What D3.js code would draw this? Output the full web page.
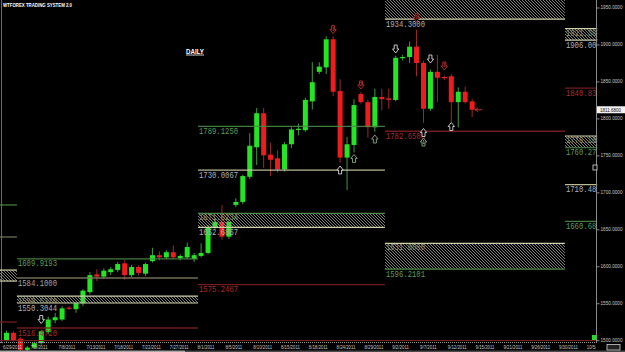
<!DOCTYPE html>
<html>
<head>
<meta charset="utf-8">
<script src="https://cdn.jsdelivr.net/npm/d3@7"></script>
<style>
html, body { margin: 0; padding: 0; background: #000; }
svg { display: block; }
</style>
</head>
<body>
<svg id="canvas" width="625" height="352"></svg>
<script>
// daily bars, gold spot, 6/29/2011 onwards
var opens  = [1500,1510,1502,1487,1490,1496,1511,1527,1528,1544,1542,1550,1565,1589,1586,1592,1595,1604,1588,1599,
              1590,1607,1615,1612,1619,1611,1612,1610,1614,1618,1653,1660,1640,1683,1687,1721,1761,1807,1751,1746,
              1731,1765,1785,1784,1823,1863,1869,1907,1837,1747,1764,1833,1822,1788,1829,1827,1825,1882,1883,1897,
              1875,1813,1863,1856,1857,1822,1836,1823];
var highs  = [1513,1512,1504,1492,1498,1514,1532,1537,1546,1546,1551,1569,1592,1596,1597,1599,1606,1608,1602,1601,
              1605,1625,1620,1622,1628,1616,1632,1618,1631,1656,1664,1683,1664,1692,1724,1780,1814,1814,1767,1757,
              1768,1788,1793,1828,1876,1876,1911,1911,1853,1775,1826,1836,1825,1840,1840,1840,1885,1886,1904,1920,
              1878,1866,1886,1858,1860,1842,1843,1826];
var lows   = [1498,1498,1484,1485,1488,1494,1508,1523,1526,1541,1537,1546,1562,1580,1583,1588,1592,1582,1585,1588,
              1587,1605,1608,1610,1610,1608,1610,1606,1612,1616,1650,1636,1637,1680,1684,1718,1737,1733,1722,1727,
              1728,1760,1777,1782,1812,1860,1860,1830,1740,1703,1754,1820,1774,1782,1811,1813,1823,1878,1875,1857,
              1794,1810,1822,1852,1795,1788,1820,1802];
var closes = [1510,1500,1487,1490,1496,1512,1528,1531,1543,1543,1550,1567,1588,1586,1594,1596,1603,1588,1599,1591,
              1603,1615,1612,1619,1612,1614,1626,1615,1618,1653,1660,1640,1660,1687,1722,1763,1807,1750,1744,1731,
              1765,1785,1786,1825,1849,1870,1907,1836,1747,1765,1818,1822,1788,1829,1826,1825,1882,1883,1897,1875,
              1813,1863,1855,1855,1822,1836,1822,1811.68];

// date labels every 4th bar
var dateLabels = ['6/29/2011','7/5/2011','7/8/2011','7/13/2011','7/18/2011','7/22/2011','7/27/2011','8/1/2011',
                  '8/5/2011','8/10/2011','8/15/2011','8/18/2011','8/24/2011','8/29/2011','9/2/2011','9/7/2011',
                  '9/12/2011','9/15/2011','9/21/2011','9/26/2011','9/30/2011','10/5/2011'];
var priceTicks = [1500,1550,1600,1650,1700,1750,1800,1850,1900,1950];

// period boundaries (in bars) for the level sets
var periodBars = [-1, 1.5, 27.55, 54.45, 80.35, 85];

// single level lines
var linePeriod = [0, 0, 0, 1, 1, 1, 2, 2, 2, 3, 4, 4, 4];
var linePrice  = [1682.9, 1639.6, 1524.6, 1609.9193, 1584.1, 1516.472, 1789.125, 1730.0067, 1575.2467, 1782.65, 1840.83, 1710.48, 1660.68];
var lineKind   = ['sup','mid','piv','sup','mid','piv','sup','cream','piv','piv','piv','cream','sup'];
var lineLabel  = ['','','','1609.9193','1584.1000','1516.4720','1789.1250','1730.0067','1575.2467','1782.6500','1840.83','1710.48','1660.68'];

// hatched zones
var zonePeriod      = [0, 1, 2, 3, 3, 4, 4];
var zoneTop         = [1594.9, 1559.5326, 1671.6234, 1995, 1631.0, 1921.36, 1776.20];
var zoneBottom      = [1580.0, 1550.3044, 1652.6867, 1934.3, 1596.2101, 1906.00, 1760.27];
var zoneTopLabel    = ['', '1559.5326', '1671.6234', '', '1631.0000', '1921.36', '1776.20'];
var zoneBottomLabel = ['', '1550.3044', '1652.6867', '1934.3000', '1596.2101', '1906.00', '1760.27'];
var zoneTopKind     = ['cream','cream','sup','cream','cream','cream','cream'];
var zoneBottomKind  = ['cream','cream','cream','cream','sup','cream','sup'];

// signal arrows
var arrowBar   = [5, 47, 51, 48, 50, 53, 56, 59, 60, 60, 61, 63, 64];
var arrowPrice = [1528, 1920.2, 1845.2, 1730.2, 1745.8, 1772.1, 1893.9, 1936.2, 1780.9, 1768.1, 1880.3, 1870.9, 1789];
var arrowDir   = ['down','down','down','up','up','up','down','down','up','up','down','down','up'];
var arrowKind  = ['plain','sell','sell','plain','buy','buy','plain','sell','plain','buy','plain','sell','plain'];
var arrowText  = ['', '1', '2', '', '', '', '', '1', '', '1', '', '1', ''];

var lineColor  = { sup: '#4b8a45', mid: '#7c7c5e', piv: '#7e2020', cream: '#cfcfa8' };
var labelColor = { sup: '#5f9c58', mid: '#a4a4a4', piv: '#a82c2c', cream: '#b0b0b0' };
var arrowColor = { plain: '#d8d8d8', sell: '#c03030', buy: '#8aa88a' };

var svg = d3.select('#canvas');
var x = d3.scaleLinear().domain([0, 1]).range([6.5, 13.45]);
var y = d3.scaleLinear().domain([1500, 1950]).range([340.2, 7.5]);

var defs = svg.append('defs');
var pat = defs.append('pattern')
	.attr('id', 'hatch')
	.attr('patternUnits', 'userSpaceOnUse')
	.attr('width', 3)
	.attr('height', 3);
pat.append('path')
	.attr('d', 'M -1 -1 L 4 4 M -1 2 L 1 4 M 2 -1 L 4 1')
	.attr('stroke', '#a0a0a0')
	.attr('stroke-width', 0.8);
defs.append('clipPath').attr('id', 'plotclip')
	.append('rect').attr('x', 0).attr('y', 0).attr('width', 596).attr('height', 352);

svg.append('rect').attr('width', 625).attr('height', 352).attr('fill', '#000');

// left border
svg.append('line').attr('x1', 1.5).attr('x2', 1.5).attr('y1', 0).attr('y2', 343)
	.attr('stroke', '#6a6a6a').attr('stroke-width', 1);

// candles
var bars = d3.range(opens.length);
function isUp(i){ return closes[i] >= opens[i]; }

svg.append('g').selectAll('line').data(bars).join('line')
	.attr('x1', function(d){ return x(d); })
	.attr('x2', function(d){ return x(d); })
	.attr('y1', function(d){ return y(highs[d]); })
	.attr('y2', function(d){ return y(lows[d]); })
	.attr('stroke', function(d){ return isUp(d) ? '#3f9a3f' : '#a02828'; })
	.attr('stroke-width', 1);

svg.append('g').selectAll('rect').data(bars).join('rect')
	.attr('x', function(d){ return x(d) - 2.5; })
	.attr('width', 5)
	.attr('y', function(d){ return y(Math.max(opens[d], closes[d])); })
	.attr('height', function(d){ return Math.max(1.2, Math.abs(y(opens[d]) - y(closes[d]))); })
	.attr('fill', function(d){ return isUp(d) ? '#22e622' : '#ee1c1c'; });

// zones and level lines
function px0(p){ return Math.max(0, x(periodBars[p])); }
function px1(p){ return x(periodBars[p + 1]); }

var gz = svg.append('g');
zonePeriod.forEach(function(p, i){
	var x0 = px0(p), x1 = px1(p);
	gz.append('rect')
		.attr('x', x0).attr('width', x1 - x0)
		.attr('y', y(zoneTop[i])).attr('height', y(zoneBottom[i]) - y(zoneTop[i]))
		.attr('fill', 'url(#hatch)');
	gz.append('line').attr('x1', x0).attr('x2', x1)
		.attr('y1', y(zoneTop[i])).attr('y2', y(zoneTop[i]))
		.attr('stroke', lineColor[zoneTopKind[i]]).attr('stroke-width', 1.2);
	gz.append('line').attr('x1', x0).attr('x2', x1)
		.attr('y1', y(zoneBottom[i])).attr('y2', y(zoneBottom[i]))
		.attr('stroke', lineColor[zoneBottomKind[i]]).attr('stroke-width', 1.2);
});

var gl = svg.append('g');
linePeriod.forEach(function(p, i){
	gl.append('line').attr('x1', px0(p)).attr('x2', px1(p))
		.attr('y1', y(linePrice[i])).attr('y2', y(linePrice[i]))
		.attr('stroke', lineColor[lineKind[i]]).attr('stroke-width', 1.3)
		.attr('opacity', 0.9);
});

// level labels
function levelText(g, txt, xx, yy, color, size){
	if (!txt) return;
	g.append('text')
		.attr('x', xx).attr('y', yy)
		.attr('fill', color)
		.attr('font-family', 'Liberation Mono')
		.attr('font-size', size)
		.attr('textLength', txt.length * 4.35)
		.attr('lengthAdjust', 'spacingAndGlyphs')
		.text(txt);
}
var gt = svg.append('g');
linePeriod.forEach(function(p, i){
	levelText(gt, lineLabel[i], px0(p) + 1, y(linePrice[i]) + 7.5, labelColor[lineKind[i]], 8.5);
});
zonePeriod.forEach(function(p, i){
	var h = y(zoneBottom[i]) - y(zoneTop[i]);
	levelText(gt, zoneTopLabel[i], px0(p) + 1, y(zoneTop[i]) + Math.min(7, h - 0.5), '#8e8e62', Math.min(8.5, h + 0.5));
	levelText(gt, zoneBottomLabel[i], px0(p) + 1, y(zoneBottom[i]) + 7.5,
		zoneBottomKind[i] == 'sup' ? labelColor.sup : labelColor.cream, 8.5);
});

// arrows
function arrowPath(cx, cy, dir){
	var s = dir == 'down' ? 1 : -1;
	return 'M ' + (cx - 1.5) + ' ' + (cy - 4 * s) + ' H ' + (cx + 1.5) + ' V ' + cy +
		' H ' + (cx + 3.2) + ' L ' + cx + ' ' + (cy + 4 * s) + ' L ' + (cx - 3.2) + ' ' + cy +
		' H ' + (cx - 1.5) + ' Z';
}
var ga = svg.append('g');
arrowBar.forEach(function(b, i){
	var cx = x(b), cy = y(arrowPrice[i]);
	ga.append('path')
		.attr('d', arrowPath(cx, cy, arrowDir[i]))
		.attr('fill', '#000')
		.attr('stroke', arrowColor[arrowKind[i]])
		.attr('stroke-width', 0.9);
	if (arrowText[i]) {
		ga.append('text')
			.attr('x', cx).attr('y', cy + (arrowDir[i] == 'down' ? 1.5 : 2.5))
			.attr('text-anchor', 'middle')
			.attr('fill', arrowColor[arrowKind[i]])
			.attr('font-family', 'Arial').attr('font-size', 4.5).attr('font-weight', 'bold')
			.text(arrowText[i]);
	}
});
// last price marker
var last = closes.length - 1;
var ly = y(closes[last]);
ga.append('path')
	.attr('d', 'M ' + (x(last) + 3) + ' ' + ly + ' L ' + (x(last) + 6) + ' ' + (ly - 2) + ' M ' + (x(last) + 3) + ' ' + ly +
		' L ' + (x(last) + 6) + ' ' + (ly + 2) + ' M ' + (x(last) + 3) + ' ' + ly + ' H ' + (x(last) + 10))
	.attr('stroke', '#c03030').attr('stroke-width', 1).attr('fill', 'none');

// bottom frame and date axis
svg.append('line').attr('x1', 0).attr('x2', 596).attr('y1', 340.5).attr('y2', 340.5)
	.attr('stroke', '#7a2222').attr('stroke-width', 1);
svg.append('line').attr('x1', 0).attr('x2', 596).attr('y1', 342.5).attr('y2', 342.5)
	.attr('stroke', '#9a9a9a').attr('stroke-width', 1).attr('stroke-dasharray', '1,1');
svg.append('rect').attr('x', 0).attr('y', 350.5).attr('width', 185).attr('height', 1.5).attr('fill', '#a8a8a8');
svg.append('rect').attr('x', 185).attr('y', 350.5).attr('width', 440).attr('height', 1.5).attr('fill', '#4a4a4a');

var labelBars = dateLabels.map(function(d, i){ return i * 4; });
var xAxis = d3.axisBottom(x)
	.tickValues(labelBars)
	.tickSize(0)
	.tickFormat(function(d, i){ return dateLabels[i]; });
var gx = svg.append('g')
	.attr('transform', 'translate(0,343)')
	.attr('clip-path', 'url(#plotclip)')
	.call(xAxis);
gx.select('.domain').remove();
gx.selectAll('text')
	.attr('x', -4).attr('y', 6).attr('dy', 0)
	.attr('text-anchor', 'start')
	.attr('fill', '#c4c4c4')
	.attr('font-family', 'Arial').attr('font-size', 4.6)
	.attr('textLength', function(d, i){ return dateLabels[i].length * 2.1; })
	.attr('lengthAdjust', 'spacingAndGlyphs');

// right price axis
var yAxis = d3.axisRight(y)
	.tickValues(priceTicks)
	.tickSize(3)
	.tickFormat(d3.format('.4f'));
var gy = svg.append('g')
	.attr('transform', 'translate(596.5,0)')
	.call(yAxis);
gy.select('.domain').attr('stroke', '#8a8a8a').attr('d', 'M 0 0 V 343');
gy.selectAll('line').attr('stroke', '#8a8a8a');
gy.selectAll('text')
	.attr('x', 4)
	.attr('fill', '#c8c8c8')
	.attr('font-family', 'Arial').attr('font-size', 4.6)
	.attr('textLength', 22)
	.attr('lengthAdjust', 'spacingAndGlyphs');

// current price tag
svg.append('rect').attr('x', 597).attr('y', ly - 3.5).attr('width', 28).attr('height', 7).attr('fill', '#f2f2f2');
svg.append('text').attr('x', 600).attr('y', ly + 1.8)
	.attr('fill', '#111').attr('font-family', 'Arial').attr('font-size', 4.6)
	.attr('textLength', 21).attr('lengthAdjust', 'spacingAndGlyphs')
	.text(d3.format('.4f')(closes[last]));

// small markers on the axis
svg.append('rect').attr('x', 593).attr('y', 165).attr('width', 4).attr('height', 5)
	.attr('fill', '#000').attr('stroke', '#e0e0e0').attr('stroke-width', 0.8);
svg.append('rect').attr('x', 592).attr('y', 335).attr('width', 4.5).attr('height', 5).attr('fill', '#22dd22');
svg.append('rect').attr('x', 607).attr('y', 344.5).attr('width', 13).attr('height', 5.5)
	.attr('fill', '#222').attr('stroke', '#cfcfcf').attr('stroke-width', 0.8);

// titles
svg.append('text').attr('x', 3).attr('y', 7.2)
	.attr('fill', '#ffffff').attr('font-family', 'Arial').attr('font-weight', 'bold').attr('font-size', 5.5)
	.attr('textLength', 69).attr('lengthAdjust', 'spacingAndGlyphs')
	.text('WTFOREX TRADING SYSTEM 2.0');
svg.append('text').attr('x', 186).attr('y', 53.5)
	.attr('fill', '#ffffff').attr('font-family', 'Arial').attr('font-weight', 'bold').attr('font-size', 7.5)
	.attr('textLength', 18).attr('lengthAdjust', 'spacingAndGlyphs')
	.text('DAILY');
svg.append('line').attr('x1', 186).attr('x2', 204).attr('y1', 55).attr('y2', 55)
	.attr('stroke', '#ffffff').attr('stroke-width', 0.8);
</script>
</body>
</html>
